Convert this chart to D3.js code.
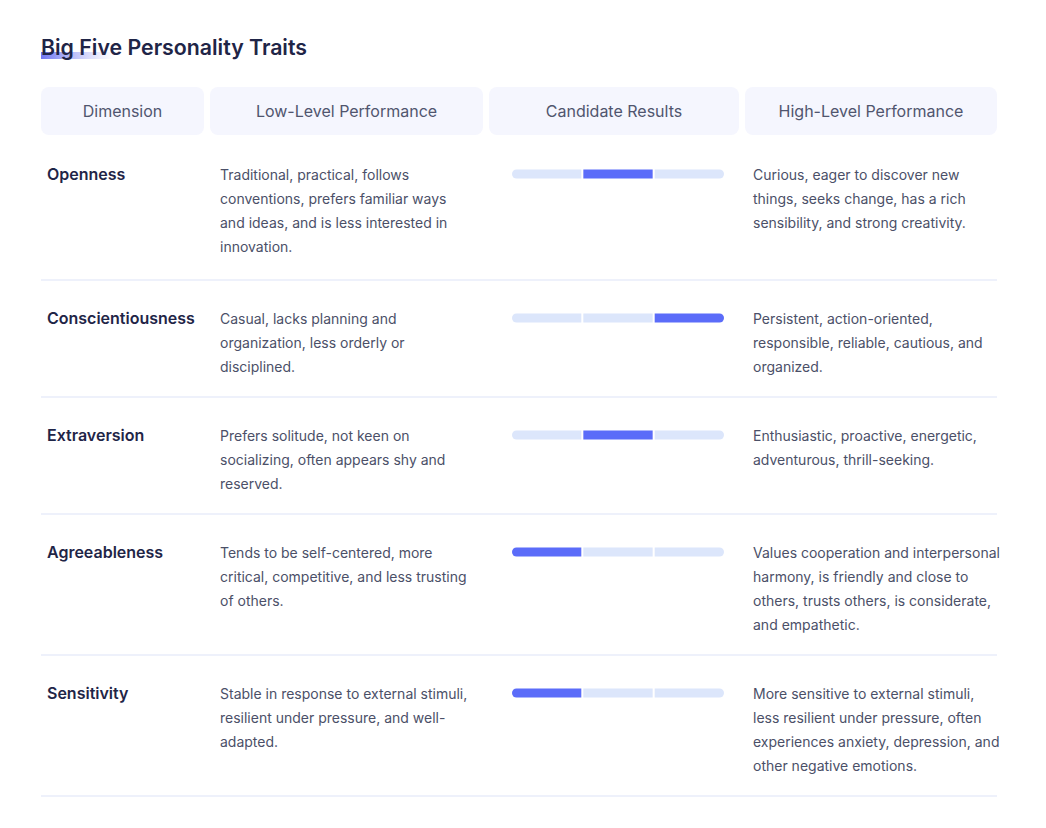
<!DOCTYPE html>
<html>
<head>
<meta charset="utf-8">
<script src="https://cdn.jsdelivr.net/npm/d3@7"></script>
<style>
  html, body { margin: 0; padding: 0; background: #ffffff; }
  svg { display: block; }
</style>
</head>
<body>
<svg id="chart" width="1046" height="828"></svg>
<script>
// ---------------- data ----------------
const title = "Big Five Personality Traits";
const headers = ["Dimension", "Low-Level Performance", "Candidate Results", "High-Level Performance"];
const dimensions = ["Openness", "Conscientiousness", "Extraversion", "Agreeableness", "Sensitivity"];
const lowText = [
  ["Traditional, practical, follows", "conventions, prefers familiar ways", "and ideas, and is less interested in", "innovation."],
  ["Casual, lacks planning and", "organization, less orderly or", "disciplined."],
  ["Prefers solitude, not keen on", "socializing, often appears shy and", "reserved."],
  ["Tends to be self-centered, more", "critical, competitive, and less trusting", "of others."],
  ["Stable in response to external stimuli,", "resilient under pressure, and well-", "adapted."]
];
const highText = [
  ["Curious, eager to discover new", "things, seeks change, has a rich", "sensibility, and strong creativity."],
  ["Persistent, action-oriented,", "responsible, reliable, cautious, and", "organized."],
  ["Enthusiastic, proactive, energetic,", "adventurous, thrill-seeking."],
  ["Values cooperation and interpersonal", "harmony, is friendly and close to", "others, trusts others, is considerate,", "and empathetic."],
  ["More sensitive to external stimuli,", "less resilient under pressure, often", "experiences anxiety, depression, and", "other negative emotions."]
];
const levels = ["Low", "Medium", "High"];
const scores = ["Medium", "High", "Medium", "Low", "Low"]; // candidate level per dimension

// ---------------- layout ----------------
const FONT = "Inter, 'Noto Sans', sans-serif";
const svg = d3.select("#chart");
const tableLeft = 41, tableRight = 997;
const colBounds = [[41, 204], [210, 483], [489, 739], [745, 997]];
const headerTop = 87, headerH = 48;
const lineH = 24;

// title + gradient accent
const defs = svg.append("defs");
const grad = defs.append("linearGradient").attr("id", "tgrad").attr("x1", "0%").attr("x2", "100%");
grad.append("stop").attr("offset", "0%").attr("stop-color", "#6f76f2").attr("stop-opacity", 1);
grad.append("stop").attr("offset", "45%").attr("stop-color", "#9097f5").attr("stop-opacity", 0.6);
grad.append("stop").attr("offset", "100%").attr("stop-color", "#b4b8fa").attr("stop-opacity", 0);
svg.append("rect").attr("x", 41).attr("y", 52).attr("width", 74).attr("height", 7).attr("fill", "url(#tgrad)");
svg.append("text").attr("x", 41).attr("y", 55)
  .attr("font-family", FONT).attr("font-size", 21.3).attr("font-weight", 600)
  .attr("fill", "#1f2547").text(title);

// header cells
const hdr = svg.append("g");
headers.forEach((h, i) => {
  const [x0, x1] = colBounds[i];
  hdr.append("rect").attr("x", x0).attr("y", headerTop).attr("width", x1 - x0).attr("height", headerH)
    .attr("rx", 8).attr("fill", "#f5f6fe");
  hdr.append("text").attr("x", (x0 + x1) / 2).attr("y", headerTop + headerH / 2)
    .attr("text-anchor", "middle").attr("dominant-baseline", "central")
    .attr("font-family", FONT).attr("font-size", 16).attr("fill", "#50556e").text(h);
});

// rows
const rowLines = dimensions.map((d, i) => Math.max(lowText[i].length, highText[i].length));
const rowH = rowLines.map((n, i) => n * lineH + 45 + (i === 0 ? 3 : 0));
const rowTops = [];
let acc = headerTop + headerH + 2;
rowH.forEach(h => { rowTops.push(acc); acc += h; });

const barX = d3.scaleBand().domain(levels).range([512, 724]).paddingInner(0.028);
const segH = 9;

const rows = svg.append("g").selectAll("g.row").data(dimensions).join("g").attr("class", "row")
  .attr("transform", (d, i) => `translate(0,${rowTops[i]})`);

rows.each(function (d, i) {
  const g = d3.select(this);
  const firstY = i === 0 ? 37 : 37; // centre of first text line
  g.append("text").attr("x", 47).attr("y", firstY).attr("dominant-baseline", "central")
    .attr("font-family", FONT).attr("font-size", 16).attr("font-weight", 600)
    .attr("fill", "#1f2547").text(d);

  const addLines = (lines, x) => {
    const t = g.append("text").attr("font-family", FONT).attr("font-size", 14).attr("fill", "#4b5068");
    lines.forEach((ln, k) => {
      t.append("tspan").attr("x", x).attr("y", firstY + k * lineH).attr("dominant-baseline", "central").text(ln);
    });
  };
  addLines(lowText[i], 220);
  addLines(highText[i], 753);

  // candidate result segmented bar
  const by = firstY - segH / 2;
  levels.forEach((lv, k) => {
    const x0 = barX(lv), w = barX.bandwidth();
    const fill = lv === scores[i] ? "#5b6cf9" : "#dce6fb";
    const r = segH / 2;
    let p;
    if (k === 0) {
      p = `M${x0 + r},${by} H${x0 + w} V${by + segH} H${x0 + r} A${r},${r} 0 0 1 ${x0 + r},${by} Z`;
    } else if (k === levels.length - 1) {
      p = `M${x0},${by} H${x0 + w - r} A${r},${r} 0 0 1 ${x0 + w - r},${by + segH} H${x0} Z`;
    } else {
      p = `M${x0},${by} H${x0 + w} V${by + segH} H${x0} Z`;
    }
    g.append("path").attr("d", p).attr("fill", fill);
  });

  // separator
  g.append("rect").attr("x", tableLeft).attr("y", rowH[i] - 2).attr("width", tableRight - tableLeft)
    .attr("height", 2).attr("fill", "#eef1fb");
});
</script>
</body>
</html>
